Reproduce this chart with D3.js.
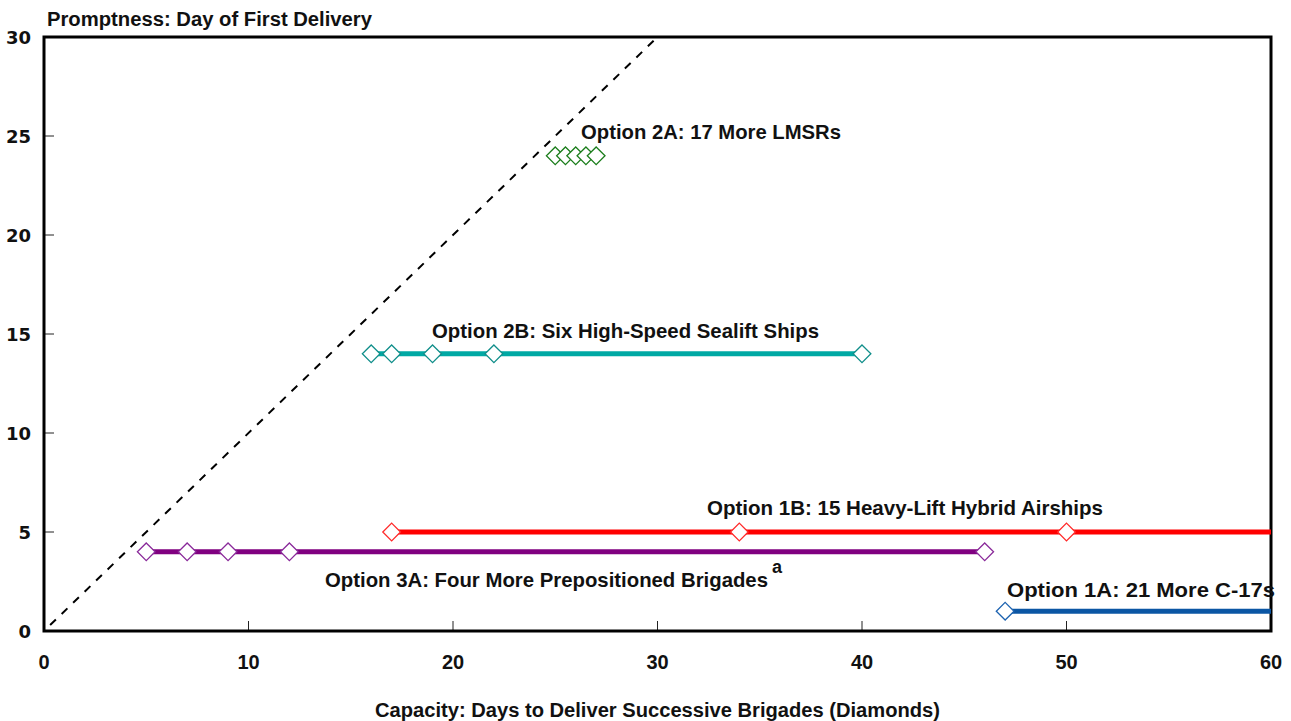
<!DOCTYPE html>
<html><head><meta charset="utf-8">
<script src="https://cdn.jsdelivr.net/npm/d3@7"></script>
<style>body{margin:0;background:#fff}svg{display:block}text{font-family:"Liberation Sans Narrow","Liberation Sans",sans-serif;font-weight:bold;fill:#111}</style>
</head><body><svg id="c" width="1291" height="721"></svg>
<script>
const xTicks = [0,10,20,30,40,50,60];
const yTicks = [0,5,10,15,20,25,30];
const options = ["Option 1A: 21 More C-17s","Option 1B: 15 Heavy-Lift Hybrid Airships","Option 2A: 17 More LMSRs","Option 2B: Six High-Speed Sealift Ships","Option 3A: Four More Prepositioned Brigades"];
const footnotes = ["","","","","a"];
const promptness = [1,5,24,14,4];
const diamonds1A = [47];
const diamonds1B = [17,34,50];
const diamonds2A = [25,25.5,26,26.5,27];
const diamonds2B = [16,17,19,22,40];
const diamonds3A = [5,7,9,12,46];
const lineEnd = [60,60,27,40,46];
const lineColors = ["#0b56a4","#ff0000","#22b14c","#00a9a4","#800080"];
const markColors = ["#1d63b0","#ff2a2a","#1b7d1b","#108e8a","#8a2a9a"];
const xTitle = "Capacity: Days to Deliver Successive Brigades (Diamonds)";
const yTitle = "Promptness: Day of First Delivery";

const svg = d3.select("#c");
const x = d3.scaleLinear().domain([0,60]).range([44,1271]);
const y = d3.scaleLinear().domain([0,30]).range([631,37]);

// ticks (inward)
svg.append("g").selectAll("line").data(xTicks.slice(1,-1)).join("line")
  .attr("x1",d=>x(d)).attr("x2",d=>x(d)).attr("y1",y(0)).attr("y2",y(0)-10)
  .attr("stroke","#222").attr("stroke-width",1);
svg.append("g").selectAll("line").data(yTicks.slice(1,-1)).join("line")
  .attr("x1",x(0)).attr("x2",x(0)+10).attr("y1",d=>y(d)).attr("y2",d=>y(d))
  .attr("stroke","#222").attr("stroke-width",1);

// diagonal dashed y = x
svg.append("line").attr("x1",x(0.3)).attr("y1",y(0.3)).attr("x2",x(30)).attr("y2",y(30))
  .attr("stroke","#000").attr("stroke-width",2).attr("stroke-dasharray","8,8");

// frame
svg.append("rect").attr("x",x(0)).attr("y",y(30)).attr("width",x(60)-x(0)).attr("height",y(0)-y(30))
  .attr("fill","none").attr("stroke","#000").attr("stroke-width",3);

// tick labels
svg.append("g").selectAll("text").data(xTicks).join("text")
  .attr("x",d=>x(d)).attr("y",669).attr("text-anchor","middle")
  .style("font-size","20px").text(d=>d);
svg.append("g").selectAll("text").data(yTicks).join("text")
  .attr("x",31).attr("y",d=>y(d)+7).attr("text-anchor","end")
  .style("font-family","'DejaVu Sans'").style("font-size","18px").text(d=>d);

const allDiamonds = [diamonds1A,diamonds1B,diamonds2A,diamonds2B,diamonds3A];
const series = options.map((name,i)=>({name, y:promptness[i], pts:allDiamonds[i], end:lineEnd[i], lc:lineColors[i], mc:markColors[i]}));

const g = svg.append("g");
series.forEach(s=>{
  g.append("line").attr("x1",x(s.pts[0])).attr("x2",x(s.end)).attr("y1",y(s.y)).attr("y2",y(s.y))
    .attr("stroke",s.lc).attr("stroke-width",5);
});
const sym = d3.symbol().type(d3.symbolDiamond2).size(200);
series.forEach(s=>{
  g.selectAll(null).data(s.pts).join("path")
    .attr("d",sym).attr("transform",d=>`translate(${x(d)},${y(s.y)})`)
    .attr("fill","#fff").attr("stroke",s.mc).attr("stroke-width",1.3);
});

// labels
const labelPos = [[1007,597,268],[707,515,396],[581,139,260],[432,338,387],[325,587,443]];
const labels = svg.append("g").selectAll("text").data(options).join("text")
  .attr("x",(d,i)=>labelPos[i][0]).attr("y",(d,i)=>labelPos[i][1])
  .style("font-size","21px");
labels.append("tspan")
  .attr("textLength",(d,i)=>labelPos[i][2]).attr("lengthAdjust","spacingAndGlyphs")
  .text(d=>d);
labels.filter((d,i)=>footnotes[i]).append("tspan")
  .attr("dx",4).attr("dy",-14).style("font-size","18px")
  .text((d)=>footnotes[options.indexOf(d)]);

svg.append("text").attr("x",47).attr("y",26).attr("textLength",325).attr("lengthAdjust","spacingAndGlyphs")
  .style("font-size","20px").text(yTitle);
svg.append("text").attr("x",375).attr("y",717).attr("textLength",565).attr("lengthAdjust","spacingAndGlyphs")
  .style("font-size","20px").text(xTitle);
</script></body></html>
